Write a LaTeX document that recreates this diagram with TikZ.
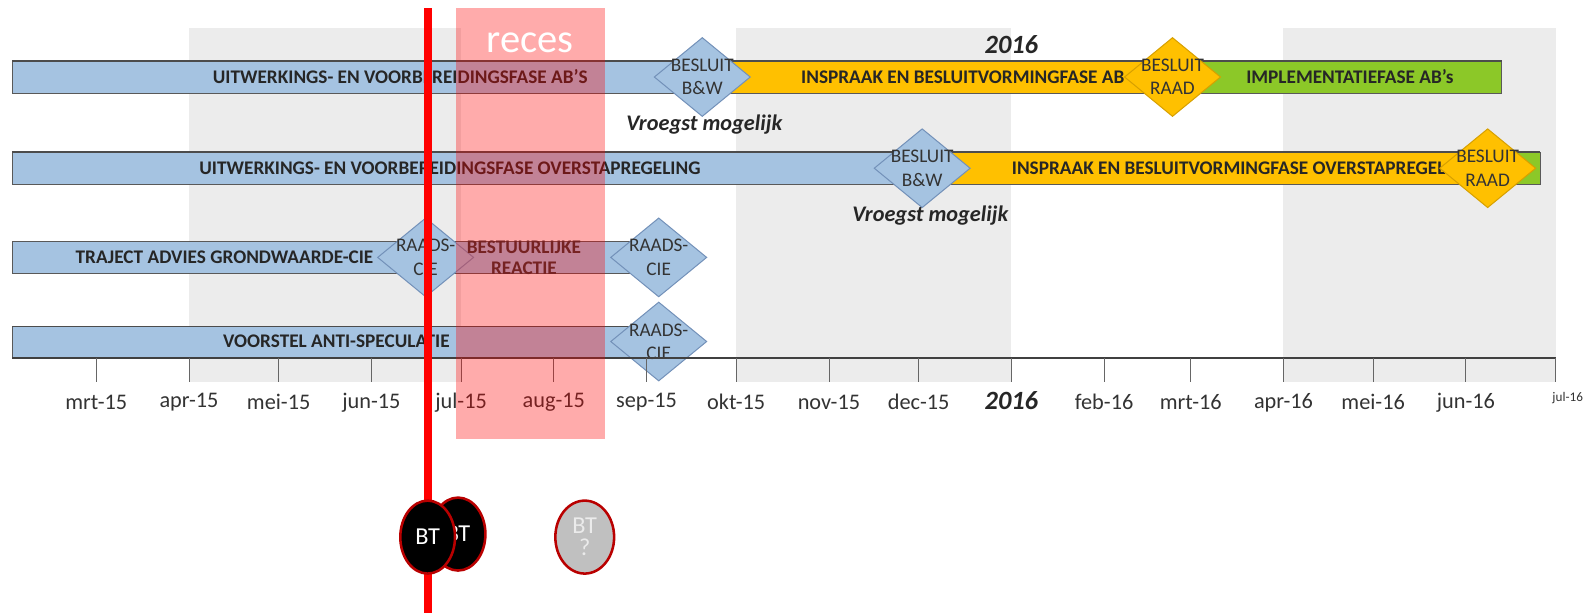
\documentclass[tikz,border=0pt]{standalone}
\usepackage{fontspec}
\setmainfont{Carlito}
\usetikzlibrary{positioning,shapes.geometric}

\definecolor{barblue}{RGB}{165,195,225}
\definecolor{bluedge}{RGB}{115,145,185}
\definecolor{baryellow}{RGB}{255,192,0}
\definecolor{yellowedge}{RGB}{215,160,0}
\definecolor{bargreen}{RGB}{140,200,40}
\definecolor{bandgray}{RGB}{236,236,236}
\definecolor{btred}{RGB}{185,0,0}
\definecolor{btgray}{RGB}{192,192,192}

\begin{document}
\begin{tikzpicture}[x=1pt, y=-1pt,
    phase/.style={font=\bfseries\fontsize{19}{21}\selectfont, text=black!85, align=center},
    milestone/.style={diamond, draw=bluedge, line width=1pt, fill=barblue, minimum width=95pt, minimum height=78pt, inner sep=0pt},
    decision/.style={milestone, draw=yellowedge, fill=baryellow},
    mstext/.style={font=\fontsize{19}{23}\selectfont, text=black!80, align=center},
    month/.style={font=\fontsize{22}{22}\selectfont, text=black!80},
    note/.style={font=\bfseries\itshape\fontsize{22}{22}\selectfont, text=black!85},
    meeting/.style={ellipse, draw=btred, line width=2.5pt, minimum width=54pt, minimum height=72pt, inner sep=0pt, align=center, font=\fontsize{24}{22}\selectfont}]
    \useasboundingbox (0,0) rectangle (1568,605);

    % Quarter bands
    \fill[bandgray] (186.5,28) rectangle (455,377);
    \fill[bandgray] (726.5,28) rectangle (998,377);
    \fill[bandgray] (1266.5,28) rectangle (1535,377);

    % Bar 1: AB's
    \fill[barblue] (12,60) rectangle (693,92);
    \fill[baryellow] (693,60) rectangle (1157,92);
    \fill[bargreen] (1157,60) rectangle (1482,92);
    \draw[black!65, line width=0.8pt] (12,60) rectangle (1482,92);
    \draw[black!70, line width=1.6pt] (12,60) -- (1482,60);
    \node[phase] (ab1) at (395,76) {UITWERKINGS- EN VOORBEREIDINGSFASE AB’S};
    \node[phase, anchor=east] (ab2) at (1113,76) {INSPRAAK EN BESLUITVORMINGFASE AB};
    \node[phase] (ab3) at (1332,76) {IMPLEMENTATIEFASE AB’s};
    \node[milestone] (bw1) at (693,76) {};
    \node[mstext] at (bw1) {BESLUIT\\B\&W};
    \node[decision] (raad1) at (1157,76) {};
    \node[mstext] at (raad1) {BESLUIT\\RAAD};
    \node[note] (vm1) at (695,123) {Vroegst mogelijk};

    % Bar 2: overstapregeling
    \fill[barblue] (12,150) rectangle (910,182);
    \fill[baryellow] (910,150) rectangle (1468,182);
    \fill[bargreen] (1468,150) rectangle (1520,182);
    \draw[black!65, line width=0.8pt] (12,150) rectangle (1520,182);
    \draw[black!70, line width=1.6pt] (12,150) -- (1520,150);
    \node[phase] (ov1) at (444,166) {UITWERKINGS- EN VOORBEREIDINGSFASE OVERSTAPREGELING};
    \node[phase, anchor=west] (ov2) at (995,166) {INSPRAAK EN BESLUITVORMINGFASE OVERSTAPREGEL};
    \node[milestone] (bw2) at (910,166) {};
    \node[mstext] at (bw2) {BESLUIT\\B\&W};
    \node[decision] (raad2) at (1468,166) {};
    \node[mstext] at (raad2) {BESLUIT\\RAAD};
    \node[note] (vm2) at (918,213) {Vroegst mogelijk};

    % Bar 3: grondwaarde-cie
    \fill[barblue] (12,238) rectangle (650,270);
    \draw[black!65, line width=0.8pt] (12,238) rectangle (650,270);
    \node[phase, anchor=east] (gw) at (372,254) {TRAJECT ADVIES GRONDWAARDE-CIE};
    \node[milestone] (rc1) at (420,254) {};
    \node[mstext] at (rc1) {RAADS-\\CIE};
    \node[phase, text=black!80] (br) at (517,254) {BESTUURLIJKE\\REACTIE};
    \node[milestone] (rc2) at (650,254) {};
    \node[mstext] at (rc2) {RAADS-\\CIE};

    % Bar 4: anti-speculatie
    \fill[barblue] (12,322) rectangle (650,353);
    \draw[black!65, line width=0.8pt] (12,322) rectangle (650,353);
    \draw[black!70, line width=1.6pt] (12,322) -- (650,322);
    \node[phase] (as) at (332,337) {VOORSTEL ANTI-SPECULATIE};
    \node[milestone] (rc3) at (650,337) {};
    \node[mstext] at (rc3) {RAADS-\\CIE};

    % Time axis
    \draw[black!75, line width=1.6pt] (12,353) -- (1535,353);
    \foreach \x/\m in {95/mrt-15, 186.5/apr-15, 275/mei-15, 366.5/jun-15, 455/jul-15,
        546.5/aug-15, 638/sep-15, 726.5/okt-15, 818/nov-15, 906.5/dec-15,
        1089.5/feb-16, 1175/mrt-16, 1266.5/apr-16, 1355/mei-16, 1446.5/jun-16} {
        \draw[black!60, line width=0.8pt] (\x,353) -- (\x,377);
        \node[month] at (\x,397) {\m};
    }
    \draw[black!60, line width=0.8pt] (998,353) -- (998,377);
    \draw[black!60, line width=0.8pt] (1535,353) -- (1535,377);
    \node[note, font=\bfseries\itshape\fontsize{26}{26}\selectfont] (y16) at (998,395) {2016};
    \node[month, font=\fontsize{13}{13}\selectfont] (jul16) at (1547,393) {jul-16};
    \node[note, font=\bfseries\itshape\fontsize{26}{26}\selectfont] (top16) at (998,44) {2016};

    % Recess
    \fill[red, opacity=0.33] (450,8) rectangle (597,433);
    \node[text=white, font=\fontsize{40}{40}\selectfont] (reces) at (523,42) {reces};

    % Today line
    \draw[red, line width=8pt] (422,8) -- (422,605);

    % Meetings
    \node[meeting, fill=black, text=white] (bt2) at (452,527) {BT};
    \node[meeting, fill=black, text=white] (bt1) at (422,530) {BT};
    \node[meeting, fill=btgray, text=white!92!black, minimum width=58pt] (bt3) at (577,530) {BT\\?};
\end{tikzpicture}
\end{document}
